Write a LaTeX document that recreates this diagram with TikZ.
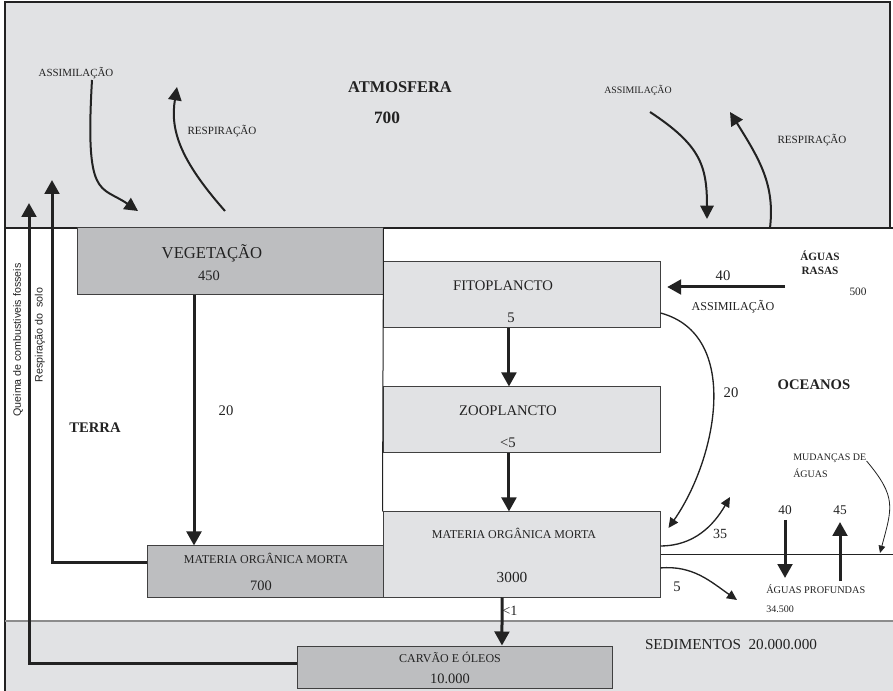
\documentclass[tikz,border=0pt]{standalone}
\usepackage{fontspec}
\setmainfont{Liberation Serif}
\setsansfont{Liberation Sans}
\usetikzlibrary{arrows.meta}

\definecolor{atmgray}{HTML}{E1E2E4}
\definecolor{boxgray}{HTML}{BDBEC0}
\definecolor{ink}{HTML}{222222}

\begin{document}
\begin{tikzpicture}[
  x=0.75pt, y=0.75pt, color=ink,
  lbox/.style={draw=black!75, line width=0.75pt, fill=atmgray, inner sep=0pt, minimum width=207.75pt},
  dbox/.style={draw=black!75, line width=0.75pt, fill=boxgray, inner sep=0pt},
  txt/.style={anchor=base, inner sep=0pt, font=\fontsize{#1}{#1}\selectfont},
  txt/.default=8,
  sans/.style={inner sep=0pt, font=\sffamily\fontsize{8}{8}\selectfont},
  arr/.style={-{Triangle[length=10.5pt, width=11pt]}, line width=2.25pt},
  curv/.style={-{Triangle[length=10pt, width=10pt]}, line width=1.5pt},
  cflow/.style={-{Triangle[length=7.5pt, width=7pt]}, line width=1pt},
  mflow/.style={-{Triangle[length=5.5pt, width=5pt]}, line width=0.6pt}
]
\useasboundingbox (0,0) rectangle (893,-691);

% faixas: atmosfera e sedimentos
\fill[atmgray] (5,-2) rectangle (890,-228);
\fill[atmgray] (5,-621) rectangle (893,-691);
\draw[line width=0.9pt] (5,-691) |- (890,-2) -- (890,-228);
\draw[line width=0.9pt] (5,-228) -- (893,-228);
\draw[black!45, line width=0.9pt] (5,-621) -- (893,-621);

% atmosfera
\node[txt=12.3] (atm)    at (400,-93)  {\textbf{ATMOSFERA}};
\node[txt=13]   (atmval) at (387,-124) {\textbf{700}};
\node[txt=8.2]  (assimL) at (76,-77)   {ASSIMILAÇÃO};
\node[txt=8.3]  (respL)  at (222,-135) {RESPIRAÇÃO};
\node[txt=7.4]  (assimR) at (638,-94)  {ASSIMILAÇÃO};
\node[txt=8.3]  (respR)  at (812,-144) {RESPIRAÇÃO};

% compartimentos
\node[dbox, minimum width=229.5pt, minimum height=50.25pt] (veg)  at (230,-261.5) {};
\node[lbox, minimum height=49.5pt]                         (fito) at (521.5,-295) {};
\node[lbox, minimum height=49.5pt]                         (zoo)  at (521.5,-420) {};
\node[lbox, minimum height=63.75pt]                        (momo) at (521.5,-554.5) {};
\node[dbox, minimum width=177pt, minimum height=38.25pt]   (momt) at (265,-571.5) {};
\node[dbox, minimum width=236.25pt, minimum height=31.5pt] (carv) at (454.5,-667) {};
\draw[line width=0.75pt] (veg.north east) -- (momo.north west);

\node[txt=12.5] (vegname)  at (212,-259) {VEGETAÇÃO};
\node[txt=10.8] (vegval)   at (209,-281) {450};
\node[txt=11]   (fitoname) at (503,-291) {FITOPLANCTO};
\node[txt=11]   (fitoval)  at (511,-323) {5};
\node[txt=11]   (zooname)  at (508,-416) {ZOOPLANCTO};
\node[txt=11]   (zooval)   at (508,-448) {<5};
\node[txt=9]    (momoname) at (514,-538) {MATERIA ORGÂNICA MORTA};
\node[txt=11.5] (momoval)  at (512,-582) {3000};
\node[txt=9]    (momtname) at (266,-563) {MATERIA ORGÂNICA MORTA};
\node[txt=10.8] (momtval)  at (261,-590) {700};
\node[txt=9]    (carvname) at (450,-662) {CARVÃO E ÓLEOS};
\node[txt=10.8] (carvval)  at (450,-683) {10.000};

% regioes
\node[txt=11]   (terra)    at (95,-433)  {\textbf{TERRA}};
\node[txt=11]   (oceanos)  at (814,-390) {\textbf{OCEANOS}};
\node[txt=11.4] (sedim)    at (731,-649) {SEDIMENTOS\ \ 20.000.000};
\node[txt=8.4]  (rasas1)   at (820,-261) {\textbf{ÁGUAS}};
\node[txt=8.4]  (rasas2)   at (820,-275) {\textbf{RASAS}};
\node[txt=8.5]  (rasasval) at (858,-296) {500};
\node[txt=7.5, anchor=base west] (mud1)    at (793,-461) {MUDANÇAS DE};
\node[txt=7.5, anchor=base west] (mud2)    at (793,-478) {ÁGUAS};
\node[txt=7.7, anchor=base west] (prof)    at (766,-593) {ÁGUAS PROFUNDAS};
\node[txt=7.5, anchor=base west] (profval) at (766,-612) {34.500};
\node[sans, rotate=90] (queima) at (18,-340) {Queima de combustiveis fosseis};
\node[sans, rotate=90] (solo)   at (40,-335) {Respiração do~~solo};

% fluxos
\node[txt=11]   (f20a)   at (226,-416) {20};
\node[txt=11]   (f40a)   at (723,-281) {40};
\node[txt=9.1]  (fassim) at (733,-311) {ASSIMILAÇÃO};
\node[txt=11]   (f20b)   at (731,-398) {20};
\node[txt=10.5] (f35)    at (720,-539) {35};
\node[txt=11]   (f5)     at (677,-591) {5};
\node[txt=10.6] (f1)     at (510,-615) {<1};
\node[txt=10]   (f40b)   at (785,-515) {40};
\node[txt=10]   (f45)    at (840,-515) {45};

\coordinate (solotop)   at (52,-180);
\coordinate (queimatop) at (29,-203);
\coordinate (aLs) at (92,-80);   \coordinate (aLe) at (138,-211);
\coordinate (rLs) at (225,-211); \coordinate (rLe) at (177,-87);
\coordinate (aRs) at (650,-112); \coordinate (aRe) at (707,-219);
\coordinate (rRs) at (770,-228); \coordinate (rRe) at (730,-112);
\coordinate (rasas) at (785,-287);
\coordinate (c35) at (730,-497);
\coordinate (c5)  at (737,-600);
\coordinate (oceanedge) at (893,-554.5);
\coordinate (d40s) at (785,-520); \coordinate (d40e) at (785,-578);
\coordinate (d45s) at (840,-581); \coordinate (d45e) at (840,-522);
\coordinate (mudtip) at (880,-553);

\draw[curv] (aLs) .. controls (85,-200) and (100,-185) .. (aLe);
\draw[curv] (rLs) .. controls (180,-160) and (170,-130) .. (rLe);
\draw[curv] (aRs) .. controls (700,-145) and (707,-165) .. (aRe);
\draw[curv] (rRs) .. controls (775,-185) and (760,-160) .. (rRe);

\draw[arr] ([xshift=-27pt]veg.south) -- ([xshift=-53.25pt]momt.north);
\draw[arr] ([yshift=6.4pt]momt.west) -| (solotop);
\draw[arr] ([yshift=3pt]carv.west) -| (queimatop);
\draw[arr] ([xshift=-9.4pt]fito.south) -- ([xshift=-9.4pt]zoo.north);
\draw[arr] ([xshift=-9.4pt]zoo.south) -- ([xshift=-9.4pt]momo.north);
\draw[arr] ([xshift=-14.6pt]momo.south) -- ([xshift=35.6pt]carv.north);
\draw[arr] (rasas) -- ([shift={(5pt,6pt)}]fito.east);

\draw[cflow] ([yshift=-13.5pt]fito.east) to[out=-15, in=55] ([shift={(6pt,19.9pt)}]momo.east);
\draw[cflow] ([yshift=6.4pt]momo.east) to[out=0, in=240] (c35);
\draw[cflow] ([yshift=-10.1pt]momo.east) to[out=5, in=145] (c5);
\draw[line width=0.8pt] (momo.east) -- (oceanedge);
\draw[arr] (d40s) -- (d40e);
\draw[arr] (d45s) -- (d45e);
\draw[mflow] (mud1.base east) to[out=-50, in=75, looseness=1.3] (mudtip);
\end{tikzpicture}
\end{document}
